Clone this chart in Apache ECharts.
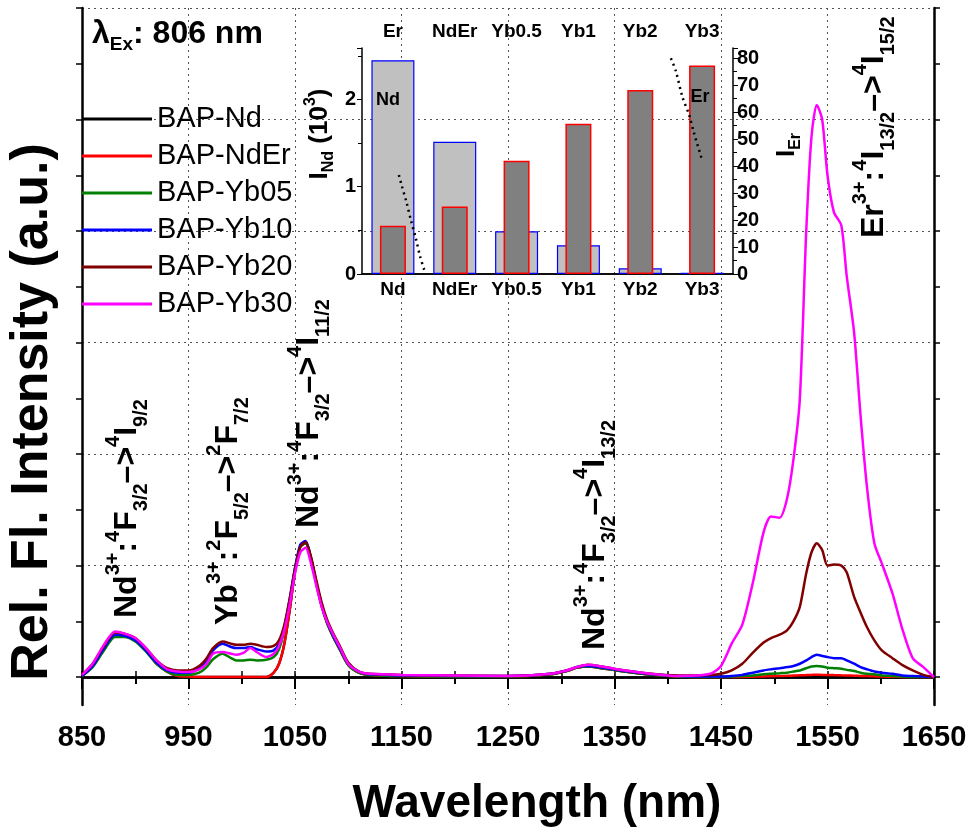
<!DOCTYPE html>
<html><head><meta charset="utf-8">
<script src="https://cdn.jsdelivr.net/npm/echarts@6/dist/echarts.min.js"></script>
<style>html,body{margin:0;padding:0;background:#fff}#c{width:979px;height:834px}</style>
</head><body><div id="c"></div>
<script>
const F = 'Arial, "Liberation Sans", Helvetica, sans-serif';
// ---- main spectra ----
const wavelength = [850,860,870,881,890,900,910,920,930,940,950,960,967,973,982,990,995,1002,1008,1014,1023,1030,1035,1040,1045,1050,1055,1060,1065,1070,1075,1080,1086,1092,1100,1110,1120,1150,1200,1250,1290,1305,1315,1325,1335,1352,1380,1410,1440,1450,1460,1470,1480,1490,1497,1505,1512,1518,1524,1530,1535,1540,1545,1550,1556,1563,1568,1575,1581,1587,1594,1601,1611,1620,1630,1640,1650];
const bapNd   = [0.01,0.10,0.25,0.38,0.37,0.33,0.24,0.12,0.05,0.01,0.005,0,0,0,0,0,0,0,0,0,0,0.04,0.12,0.30,0.60,0.95,1.17,1.20,1.06,0.84,0.64,0.49,0.36,0.25,0.11,0.04,0.02,0.01,0.005,0.005,0.025,0.055,0.085,0.095,0.085,0.06,0.025,0.005,0,0,0,0,0,0,0,0,0,0,0,0,0,0,0,0,0,0,0,0,0,0,0,0,0,0,0,0,0];
const bapNdEr = [0.01,0.10,0.25,0.38,0.37,0.33,0.24,0.12,0.05,0.01,0.005,0,0,0,0,0,0,0,0,0,0,0.04,0.12,0.30,0.60,0.95,1.17,1.20,1.06,0.84,0.64,0.49,0.36,0.25,0.11,0.04,0.02,0.01,0.005,0.005,0.025,0.055,0.085,0.095,0.085,0.06,0.025,0.005,0,0,0,0.002,0.004,0.006,0.008,0.01,0.012,0.014,0.016,0.018,0.02,0.022,0.02,0.02,0.018,0.016,0.015,0.013,0.011,0.009,0.007,0.005,0.003,0.002,0.001,0,0];
const bapYb05 = [0.01,0.09,0.23,0.36,0.36,0.32,0.23,0.12,0.05,0.02,0.02,0.04,0.09,0.16,0.21,0.17,0.15,0.15,0.155,0.15,0.155,0.18,0.25,0.42,0.68,0.97,1.17,1.20,1.06,0.84,0.64,0.49,0.36,0.25,0.11,0.04,0.02,0.01,0.005,0.005,0.025,0.055,0.085,0.095,0.085,0.06,0.025,0.005,0,0,0.005,0.01,0.015,0.025,0.03,0.035,0.04,0.05,0.06,0.08,0.095,0.10,0.095,0.085,0.08,0.075,0.065,0.055,0.04,0.03,0.025,0.015,0.01,0.005,0,0,0];
const bapYb10 = [0.01,0.10,0.25,0.38,0.37,0.33,0.24,0.13,0.06,0.04,0.04,0.08,0.15,0.24,0.30,0.27,0.26,0.26,0.27,0.25,0.23,0.24,0.30,0.45,0.70,0.98,1.19,1.22,1.07,0.85,0.65,0.50,0.37,0.26,0.12,0.05,0.025,0.015,0.01,0.01,0.03,0.06,0.09,0.10,0.09,0.065,0.03,0.01,0.005,0.005,0.01,0.02,0.04,0.06,0.07,0.08,0.09,0.10,0.12,0.15,0.18,0.20,0.19,0.18,0.17,0.17,0.15,0.12,0.09,0.07,0.05,0.04,0.03,0.015,0.01,0.005,0];
const bapYb20 = [0.02,0.12,0.27,0.40,0.39,0.35,0.26,0.15,0.08,0.06,0.06,0.10,0.17,0.26,0.32,0.30,0.29,0.29,0.30,0.29,0.27,0.28,0.33,0.47,0.70,0.97,1.17,1.21,1.08,0.87,0.67,0.52,0.39,0.28,0.13,0.05,0.03,0.02,0.015,0.01,0.03,0.06,0.09,0.11,0.10,0.07,0.035,0.015,0.02,0.03,0.06,0.12,0.22,0.31,0.35,0.38,0.42,0.50,0.63,0.93,1.12,1.20,1.14,1.00,1.01,1.00,0.94,0.72,0.58,0.45,0.33,0.24,0.17,0.11,0.06,0.02,0];
const bapYb30 = [0.02,0.12,0.28,0.41,0.39,0.35,0.26,0.15,0.07,0.05,0.045,0.07,0.12,0.21,0.225,0.21,0.20,0.22,0.26,0.225,0.18,0.21,0.28,0.42,0.65,0.93,1.12,1.16,1.02,0.82,0.63,0.50,0.38,0.27,0.12,0.05,0.03,0.02,0.015,0.01,0.03,0.06,0.09,0.11,0.10,0.07,0.035,0.01,0.03,0.10,0.30,0.47,0.85,1.30,1.44,1.43,1.60,1.95,2.49,3.99,4.85,5.13,5.00,4.50,4.17,4.05,3.60,3.09,2.35,1.71,1.20,1.02,0.75,0.44,0.17,0.09,0];
const seriesNames = ['BAP-Nd','BAP-NdEr','BAP-Yb05','BAP-Yb10','BAP-Yb20','BAP-Yb30'];
const seriesColors = ['#000000','#ff0000','#008000','#0000ff','#800000','#ff00ff'];
const seriesValues = [bapNd,bapNdEr,bapYb05,bapYb10,bapYb20,bapYb30];
// ---- inset bars ----
const insetBottomCats = ['Nd','NdEr','Yb0.5','Yb1','Yb2','Yb3'];
const insetTopCats = ['Er','NdEr','Yb0.5','Yb1','Yb2','Yb3'];
const intensityNd = [2.45,1.515,0.49,0.33,0.065,0.015];
const intensityEr = [17.9,25.0,42.0,55.7,68.2,77.3];
const arrowNd = [[0.597,1.134],[0.64,1.02],[0.72,0.82],[0.79,0.62],[0.871,0.408],[0.94,0.2],[1.016,0.027]];
const arrowEr = [[4.995,80],[5.075,75.3],[5.18,65.8],[5.29,59],[5.37,52.2],[5.505,41.9]];

const chart = echarts.init(document.getElementById('c'));
const K = '#000';
const rich = {
  b:{fontSize:32,fontWeight:'bold',fontFamily:F,lineHeight:48,verticalAlign:'middle',fill:K},
  sp:{fontSize:20,fontWeight:'bold',fontFamily:F,lineHeight:20,verticalAlign:'top',fill:K},
  sb:{fontSize:20,fontWeight:'bold',fontFamily:F,lineHeight:20,verticalAlign:'bottom',fill:K}
};
function rotText(text, x, y, r, align) {
  return {type:'text', x:x, y:y, rotation:Math.PI/2, z:50,
    style:{text:text, rich:r||rich, align:align||'left', verticalAlign:'middle', fill:K}};
}
const richSmall = {
  b:{fontSize:26,fontWeight:'bold',fontFamily:F,lineHeight:34,verticalAlign:'middle',fill:K},
  sp:{fontSize:16,fontWeight:'bold',fontFamily:F,lineHeight:16,verticalAlign:'top',fill:K},
  sb:{fontSize:16,fontWeight:'bold',fontFamily:F,lineHeight:16,verticalAlign:'bottom',fill:K}
};
const lineSeries = seriesNames.map((n,i)=>({
  name:n, type:'line', xAxisIndex:0, yAxisIndex:0, symbol:'none', smooth:0.25,
  color:seriesColors[i], lineStyle:{width:2.5,color:seriesColors[i]},
  data: wavelength.map((w,j)=>[w, seriesValues[i][j]]), z:3
}));
const axisLineStyle = {lineStyle:{color:K,width:2.5}};
const plain = v => String(v);
const option = {
  animation:false,
  backgroundColor:'#fff',
  grid:[
    {left:82, top:8, width:852, height:697},
    {left:82, top:8, width:852, height:669},
    {left:362, top:48, width:371, height:226}
  ],
  legend:{data:seriesNames, orient:'vertical', left:82, top:104, padding:0, itemGap:7,
    icon:'rect', itemWidth:70, itemHeight:3,
    textStyle:{fontSize:29, fontFamily:F, color:K, lineHeight:30}},
  xAxis:[
    {type:'value', gridIndex:0, position:'bottom', min:850, max:1650, interval:100,
     axisLine:axisLineStyle,
     axisTick:{length:12, lineStyle:{width:2,color:K}},
     minorTick:{show:true, splitNumber:2, length:7, lineStyle:{width:2,color:K}},
     axisLabel:{fontSize:29, fontWeight:'bold', fontFamily:F, color:K, margin:18, formatter:plain},
     splitLine:{show:true, lineStyle:{type:[2,4], color:'#555', width:1}},
     name:'Wavelength (nm)', nameLocation:'middle', nameGap:76,
     nameTextStyle:{fontSize:46, fontWeight:'bold', fontFamily:F, color:K, padding:[0,0,0,58]}},
    {type:'value', gridIndex:0, position:'top', min:850, max:1650, interval:50,
     axisLine:axisLineStyle, axisTick:{length:6, lineStyle:{width:1.5,color:K}},
     axisLabel:{show:false}, splitLine:{show:false}},
    {type:'value', gridIndex:1, min:850, max:1650, show:false},
    {type:'category', gridIndex:2, position:'bottom', data:insetBottomCats,
     axisLine:{lineStyle:{color:K,width:1.5}},
     axisTick:{alignWithLabel:true, length:5, lineStyle:{color:K}},
     axisLabel:{interval:0, hideOverlap:false, fontSize:19, fontWeight:'bold', fontFamily:F, color:K, margin:6}},
    {type:'category', gridIndex:2, position:'top', data:insetTopCats,
     axisLine:{lineStyle:{color:K,width:1.5}},
     axisTick:{inside:true, length:4, lineStyle:{color:K}},
     axisLabel:{interval:0, hideOverlap:false, fontSize:19, fontWeight:'bold', fontFamily:F, color:K, margin:7}},
    {type:'value', gridIndex:2, min:0, max:6, show:false}
  ],
  yAxis:[
    {type:'value', gridIndex:0, position:'left', min:-0.25, max:6,
     axisLine:{show:true, ...axisLineStyle}, axisTick:{show:false}, axisLabel:{show:false}, splitLine:{show:false}},
    {type:'value', gridIndex:0, position:'right', min:-0.25, max:6,
     axisLine:{show:true, ...axisLineStyle}, axisTick:{show:false}, axisLabel:{show:false}, splitLine:{show:false}},
    {type:'value', gridIndex:1, position:'left', min:0, max:6, interval:1,
     axisLine:{show:false}, axisTick:{show:true, length:6, lineStyle:{width:1.5,color:K}},
     minorTick:{show:true, splitNumber:2, length:6, lineStyle:{width:1.5,color:K}},
     axisLabel:{show:false},
     splitLine:{show:true, lineStyle:{type:[2,4], color:'#555', width:1}}},
    {type:'value', gridIndex:1, position:'right', min:0, max:6, interval:1,
     axisLine:{show:false}, axisTick:{show:true, length:6, lineStyle:{width:1.5,color:K}},
     minorTick:{show:true, splitNumber:2, length:6, lineStyle:{width:1.5,color:K}},
     axisLabel:{show:false}, splitLine:{show:false}},
    {type:'value', gridIndex:2, position:'left', min:0, max:2.59, interval:1,
     axisLine:{show:true, lineStyle:{color:K,width:1.5}},
     axisTick:{show:true, length:5, lineStyle:{color:K}},
     minorTick:{show:true, splitNumber:2, length:4, lineStyle:{color:K}},
     axisLabel:{fontSize:20, fontWeight:'bold', fontFamily:F, color:K, margin:6, showMaxLabel:false},
     splitLine:{show:false}},
    {type:'value', gridIndex:2, position:'right', min:0, max:83.8, interval:10,
     axisLine:{show:true, lineStyle:{color:K,width:1.5}},
     axisTick:{show:true, length:5, lineStyle:{color:K}},
     minorTick:{show:true, splitNumber:2, length:4, lineStyle:{color:K}},
     axisLabel:{fontSize:20, fontWeight:'bold', fontFamily:F, color:K, margin:4, showMaxLabel:false},
     splitLine:{show:false}}
  ],
  series:[
    ...lineSeries,
    {name:'I_Nd', type:'bar', xAxisIndex:3, yAxisIndex:4, data:intensityNd, barWidth:43,
     itemStyle:{color:'#c0c0c0', borderColor:'#0000ff', borderWidth:1.2}, z:4},
    {name:'I_Er', type:'bar', xAxisIndex:4, yAxisIndex:5, data:intensityEr, barWidth:26,
     itemStyle:{color:'#808080', borderColor:'#ff0000', borderWidth:1.5}, z:5},
    {name:'arrowNd', type:'line', xAxisIndex:5, yAxisIndex:4, data:arrowNd, symbol:'none', smooth:0.3,
     lineStyle:{type:[2,4], width:2.5, color:K}, z:6},
    {name:'arrowEr', type:'line', xAxisIndex:5, yAxisIndex:5, data:arrowEr, symbol:'none', smooth:0.3,
     lineStyle:{type:[2,4], width:2.5, color:K}, z:6}
  ],
  graphic:[
    {type:'text', left:92, top:18, z:50, style:{text:'{b|λ}{sb|Ex}{b|: 806 nm}', rich:{
      b:{fontSize:32,fontWeight:'bold',fontFamily:F,lineHeight:40,verticalAlign:'middle',fill:K},
      sb:{fontSize:19,fontWeight:'bold',fontFamily:F,lineHeight:19,verticalAlign:'bottom',fill:K}}}},
    {type:'text', x:33, y:412, rotation:Math.PI/2, z:50,
     style:{text:'Rel. Fl. Intensity (a.u.)', font:'bold 52px '+F, fill:K, align:'center', verticalAlign:'middle'}},
    rotText('{b|Nd}{sp|3+}{b|:}{sp|4}{b|F}{sb|3/2}{b|–>}{sp|4}{b|I}{sb|9/2}', 127, 618),
    rotText('{b|Yb}{sp|3+}{b|:}{sp|2}{b|F}{sb|5/2}{b|–>}{sp|2}{b|F}{sb|7/2}', 228, 625),
    rotText('{b|Nd}{sp|3+}{b|:}{sp|4}{b|F}{sb|3/2}{b|–>}{sp|4}{b|I}{sb|11/2}', 309, 528),
    rotText('{b|Nd}{sp|3+}{b|:}{sp|4}{b|F}{sb|3/2}{b|–>}{sp|4}{b|I}{sb|13/2}', 595, 650),
    rotText('{b|Er}{sp|3+}{b|:}{sp|4}{b|I}{sb|13/2}{b|–>}{sp|4}{b|I}{sb|15/2}', 874, 238),
    rotText('{b|I}{sb|Nd}{b| (10}{sp|3}{b|)}', 320, 134, richSmall, 'center'),
    rotText('{b|I}{sb|Er}', 787, 145, richSmall, 'center'),
    {type:'text', x:388, y:100, z:50, style:{text:'Nd', font:'bold 18px '+F, fill:K, align:'center', verticalAlign:'middle'}},
    {type:'text', x:700, y:97, z:50, style:{text:'Er', font:'bold 18px '+F, fill:K, align:'center', verticalAlign:'middle'}}
  ]
};
chart.setOption(option);
</script></body></html>
